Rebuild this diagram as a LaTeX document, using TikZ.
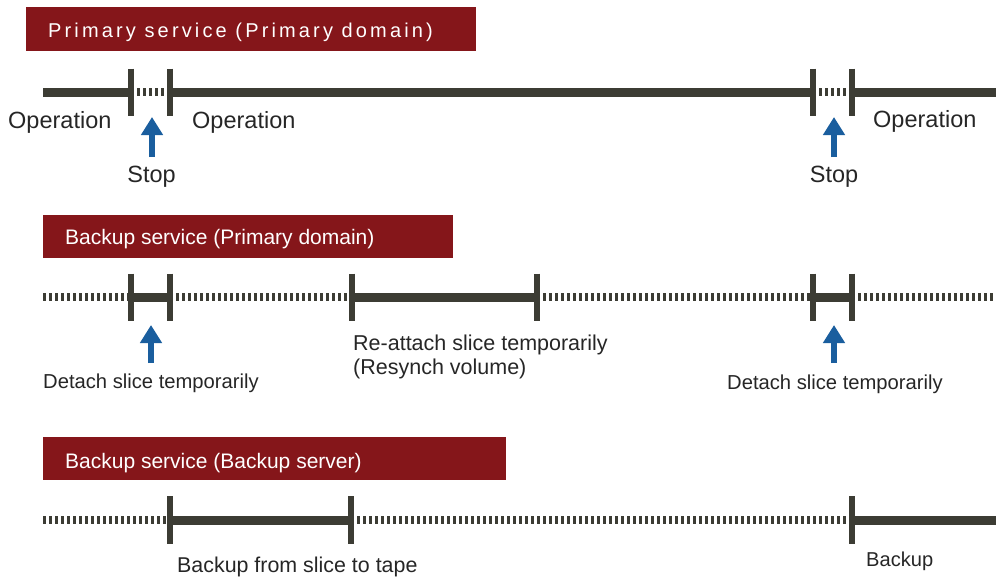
\documentclass[tikz,border=0pt]{standalone}
\usepackage{fontspec}
\setmainfont{Liberation Sans}
\usetikzlibrary{arrows.meta}
\definecolor{hdrred}{HTML}{85161A}
\definecolor{tline}{HTML}{3C3C34}
\definecolor{arrblue}{HTML}{1A5E9E}
\begin{document}
\begin{tikzpicture}[x=1pt,y=-1pt,
  solidseg/.style={tline, line width=9pt},
  dotseg/.style={tline, line width=8pt, dash pattern=on 3pt off 3pt},
  tickmark/.style={tline, line width=5.5pt},
  hdrbox/.style={fill=hdrred, draw=none, inner sep=0pt, anchor=north west},
  hdrtext/.style={inner sep=0pt, anchor=base west, text=white},
  lbl/.style={inner sep=0pt, anchor=base west, text=black!85},
  uparrow/.style={arrblue, line width=6pt, -{Triangle[length=18pt,width=21pt]}}]
\useasboundingbox (0,0) rectangle (996,579);

% ---------- headers ----------
\node[hdrbox, minimum width=450pt, minimum height=44pt] (h1box) at (26,7) {};
\node[hdrtext, font=\fontsize{20}{24}\selectfont\addfontfeature{LetterSpace=15.7}] (h1) at (48,37) {Primary service (Primary domain)};
\node[hdrbox, minimum width=410pt, minimum height=43pt] (h2box) at (43,215) {};
\node[hdrtext, font=\fontsize{21}{24}\selectfont] (h2) at (65,244) {Backup service (Primary domain)};
\node[hdrbox, minimum width=463pt, minimum height=43pt] (h3box) at (43,437) {};
\node[hdrtext, font=\fontsize{21}{24}\selectfont] (h3) at (65,468) {Backup service (Backup server)};

% ---------- row 1 ----------
\coordinate (r1s) at (43,92);
\coordinate (r1a) at (131,92);
\coordinate (r1b) at (170,92);
\coordinate (r1c) at (813,92);
\coordinate (r1d) at (852,92);
\coordinate (r1e) at (996,92);
\draw[solidseg] (r1s) -- (r1a);
\draw[dotseg] (r1a) -- (r1b);
\draw[solidseg] (r1b) -- (r1c);
\draw[dotseg] (r1c) -- (r1d);
\draw[solidseg] (r1d) -- (r1e);
\foreach \p in {r1a,r1b,r1c,r1d}
  \draw[tickmark] ([yshift=23.5pt]\p) -- ([yshift=-23.5pt]\p);

\node[lbl, font=\fontsize{23.5}{26}\selectfont] (op1) at (8,128) {Operation};
\node[lbl, font=\fontsize{23.5}{26}\selectfont] (op2) at (192,128) {Operation};
\node[lbl, font=\fontsize{23.5}{26}\selectfont] (op3) at (873,127) {Operation};
\node[lbl, anchor=base, font=\fontsize{23.5}{26}\selectfont] (stop1) at (151.5,182) {Stop};
\node[lbl, anchor=base, font=\fontsize{23.5}{26}\selectfont] (stop2) at (834,182) {Stop};
\coordinate (a1s) at (152,157);
\coordinate (a1e) at (152,117);
\coordinate (a2s) at (834,157);
\coordinate (a2e) at (834,117);
\draw[uparrow] (a1s) -- (a1e);
\draw[uparrow] (a2s) -- (a2e);

% ---------- row 2 ----------
\coordinate (r2s) at (43,297);
\coordinate (r2a) at (131,297);
\coordinate (r2b) at (170,297);
\coordinate (r2c) at (352,297);
\coordinate (r2d) at (537,297);
\coordinate (r2e) at (813,297);
\coordinate (r2f) at (852,297);
\coordinate (r2g) at (996,297);
\draw[dotseg] (r2s) -- (r2a);
\draw[solidseg] (r2a) -- (r2b);
\draw[dotseg] (r2b) -- (r2c);
\draw[solidseg] (r2c) -- (r2d);
\draw[dotseg] (r2d) -- (r2e);
\draw[solidseg] (r2e) -- (r2f);
\draw[dotseg] (r2f) -- (r2g);
\foreach \p in {r2a,r2b,r2c,r2d,r2e,r2f}
  \draw[tickmark] ([yshift=23.5pt]\p) -- ([yshift=-23.5pt]\p);

\coordinate (a3s) at (151,363);
\coordinate (a3e) at (151,325);
\coordinate (a4s) at (834,363);
\coordinate (a4e) at (834,325);
\draw[uparrow] (a3s) -- (a3e);
\draw[uparrow] (a4s) -- (a4e);
\node[lbl, font=\fontsize{20.2}{24}\selectfont] (det1) at (43,388) {Detach slice temporarily};
\node[lbl, font=\fontsize{20.2}{24}\selectfont] (det2) at (727,389) {Detach slice temporarily};
\node[lbl, font=\fontsize{21.5}{24}\selectfont] (reat1) at (353,350) {Re-attach slice temporarily};
\node[lbl, font=\fontsize{21.5}{24}\selectfont] (reat2) at (353,374) {(Resynch volume)};

% ---------- row 3 ----------
\coordinate (r3s) at (43,520);
\coordinate (r3a) at (170,520);
\coordinate (r3b) at (351,520);
\coordinate (r3c) at (852,520);
\coordinate (r3d) at (996,520);
\draw[dotseg] (r3s) -- (r3a);
\draw[solidseg] (r3a) -- (r3b);
\draw[dotseg] (r3b) -- (r3c);
\draw[solidseg] (r3c) -- (r3d);
\foreach \p in {r3a,r3b,r3c}
  \draw[tickmark] ([yshift=24pt]\p) -- ([yshift=-24pt]\p);

\node[lbl, font=\fontsize{21.4}{24}\selectfont] (bk1) at (177,572) {Backup from slice to tape};
\node[lbl, font=\fontsize{20.1}{24}\selectfont] (bk2) at (866,566) {Backup};
\end{tikzpicture}
\end{document}
